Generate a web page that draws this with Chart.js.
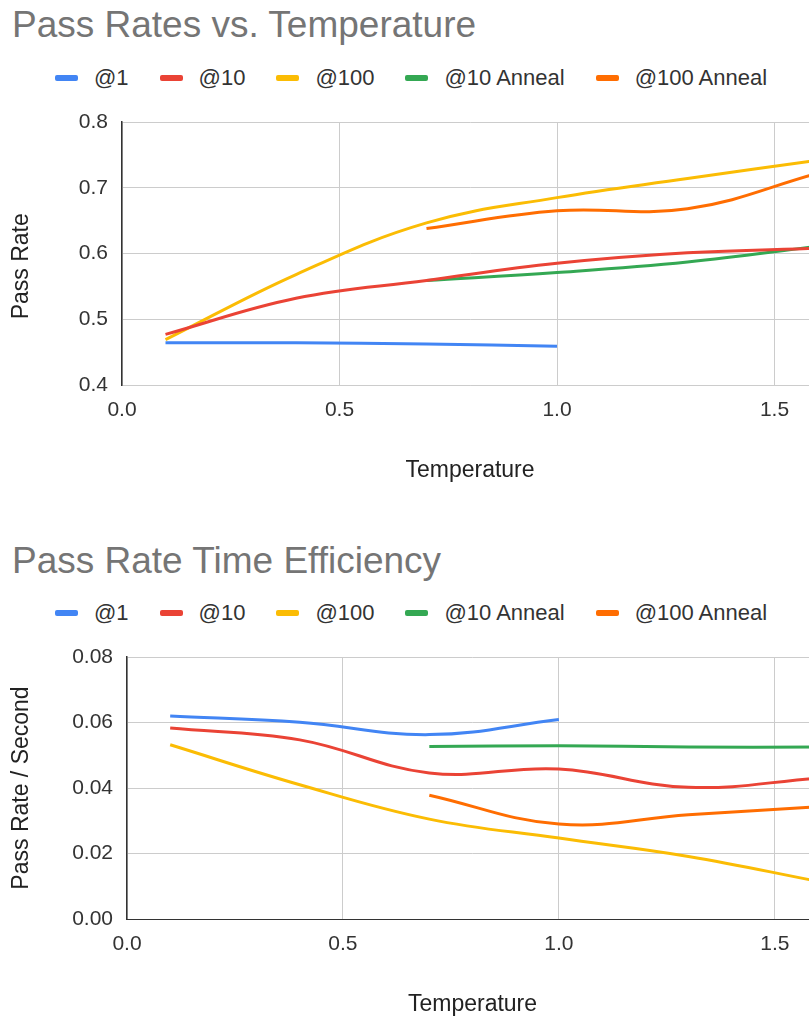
<!DOCTYPE html>
<html>
<head>
<meta charset="utf-8">
<script src="https://cdn.jsdelivr.net/npm/chart.js@4.4.1/dist/chart.umd.min.js"></script>
<style>
  html, body { margin: 0; padding: 0; background: #fff; overflow: hidden; width: 809px; height: 1017px; }
  body { position: relative; font-family: "Liberation Sans", Arial, sans-serif; }
  .title { position: absolute; left: 12px; font-size: 37px; line-height: 37px; color: #757575; white-space: nowrap; }
  .legend { position: absolute; left: 55px; height: 26px; display: flex; align-items: center; font-size: 22px; color: #333; white-space: nowrap; }
  .legend .item { display: flex; align-items: center; margin-right: 31px; }
  .legend .sw { width: 23px; height: 6px; border-radius: 2px; margin-right: 16px; }
  .cv { position: absolute; left: 0; }
</style>
</head>
<body>
<div class="title" id="title1" style="top:6px"></div>
<div class="legend" id="legend1" style="top:65px"></div>
<canvas class="cv" id="c1" width="830" height="388" style="top:102px"></canvas>

<div class="title" id="title2" style="top:542px"></div>
<div class="legend" id="legend2" style="top:600px"></div>
<canvas class="cv" id="c2" width="830" height="387" style="top:637px"></canvas>

<script>
// ---- data ----
const temperatures = [0.1, 0.4, 0.7, 1.0, 1.3, 1.6];
const seriesNames = ["@1", "@10", "@100", "@10 Anneal", "@100 Anneal"];
const seriesColors = ["#4285F4", "#EA4335", "#FBBC04", "#34A853", "#FF6D01"];

const passAt1         = [0.4642, 0.4642, 0.4625, 0.459, null, null];
const passAt10        = [0.477, 0.532, 0.559, 0.585, 0.601, 0.608];
const passAt100       = [0.469, 0.568, 0.6465, 0.685, 0.714, 0.742];
const passAt10Anneal  = [null, null, 0.559, 0.571, 0.587, 0.611];
const passAt100Anneal = [null, null, 0.638, 0.665, 0.668, 0.722];

const effAt1          = [0.0620, 0.0601, 0.0563, 0.0609, null, null];
const effAt10         = [0.0583, 0.0547, 0.0446, 0.0458, 0.0402, 0.0430];
const effAt100        = [0.0532, 0.0410, 0.0305, 0.0247, 0.0191, 0.0115];
const effAt10Anneal   = [null, null, 0.0527, 0.0529, 0.0525, 0.0525];
const effAt100Anneal  = [null, null, 0.0378, 0.0290, 0.0318, 0.0343];

const xTickValues = [0, 0.5, 1.0, 1.5];
const chart1Title = "Pass Rates vs. Temperature";
const chart2Title = "Pass Rate Time Efficiency";
const xAxisTitle = "Temperature";
const y1AxisTitle = "Pass Rate\u00A0\u00A0\u00A0\u00A0";
const y2AxisTitle = "Pass Rate / Second";

// ---- html title + legend ----
function buildHeader(titleId, legendId, title) {
  document.getElementById(titleId).textContent = title;
  const lg = document.getElementById(legendId);
  seriesNames.forEach((n, i) => {
    const it = document.createElement('div'); it.className = 'item';
    const sw = document.createElement('div'); sw.className = 'sw'; sw.style.background = seriesColors[i];
    const tx = document.createElement('span'); tx.textContent = n;
    it.appendChild(sw); it.appendChild(tx); lg.appendChild(it);
  });
}
buildHeader('title1', 'legend1', chart1Title);
buildHeader('title2', 'legend2', chart2Title);

function makeDatasets(seriesList) {
  return seriesList.map((vals, i) => ({
    label: seriesNames[i],
    data: temperatures.map((t, j) => ({ x: t, y: vals[j] })),
    borderColor: seriesColors[i],
    backgroundColor: seriesColors[i],
    borderWidth: 3,
    pointRadius: 0,
    tension: 0.4,
    spanGaps: false,
    fill: false,
    borderCapStyle: 'butt'
  }));
}

const tickFont = { family: '"Liberation Sans", Arial, sans-serif', size: 21 };
const titleFont = { family: '"Liberation Sans", Arial, sans-serif', size: 23 };

function makeChart(id, seriesList, yMin, yMax, yStep, yDec, yTitle, yAxisWidth, xBorderColor) {
  return new Chart(document.getElementById(id), {
    type: 'line',
    data: { datasets: makeDatasets(seriesList) },
    options: {
      responsive: false,
      animation: false,
      devicePixelRatio: 1,
      layout: { padding: { top: 20, left: 0, right: 12, bottom: 0 } },
      plugins: { legend: { display: false }, title: { display: false }, tooltip: { enabled: false } },
      scales: {
        x: {
          type: 'linear', min: 0, max: temperatures[temperatures.length - 1],
          afterBuildTicks: s => { s.ticks = xTickValues.map(v => ({ value: v })); },
          afterFit: s => { s.height = 105; s.paddingLeft = 0; s.paddingRight = 0; },
          ticks: { padding: 13, color: '#333', font: tickFont, maxRotation: 0,
                   callback: v => Number(v).toFixed(1) },
          grid: { color: '#cccccc', lineWidth: 1, drawTicks: false },
          border: { color: xBorderColor, width: 1 },
          title: { display: true, text: xAxisTitle, color: '#222', font: titleFont, padding: { top: 0, bottom: 6 } }
        },
        y: {
          min: yMin, max: yMax,
          afterFit: s => { s.width = yAxisWidth; s.paddingTop = 0; s.paddingBottom = 0; },
          ticks: { stepSize: yStep, padding: 14, color: '#333', font: tickFont,
                   callback: v => Number(v).toFixed(yDec) },
          grid: { color: '#cccccc', lineWidth: 1, drawTicks: false },
          border: { color: '#333333', width: 1.5 },
          title: { display: true, text: yTitle, color: '#222', font: titleFont, padding: { top: 8, bottom: 0 } }
        }
      }
    }
  });
}

makeChart('c1', [passAt1, passAt10, passAt100, passAt10Anneal, passAt100Anneal],
          0.4, 0.8, 0.1, 1, y1AxisTitle, 122, '#cccccc');
makeChart('c2', [effAt1, effAt10, effAt100, effAt10Anneal, effAt100Anneal],
          0, 0.08, 0.02, 2, y2AxisTitle, 127, '#333333');
</script>
</body>
</html>
